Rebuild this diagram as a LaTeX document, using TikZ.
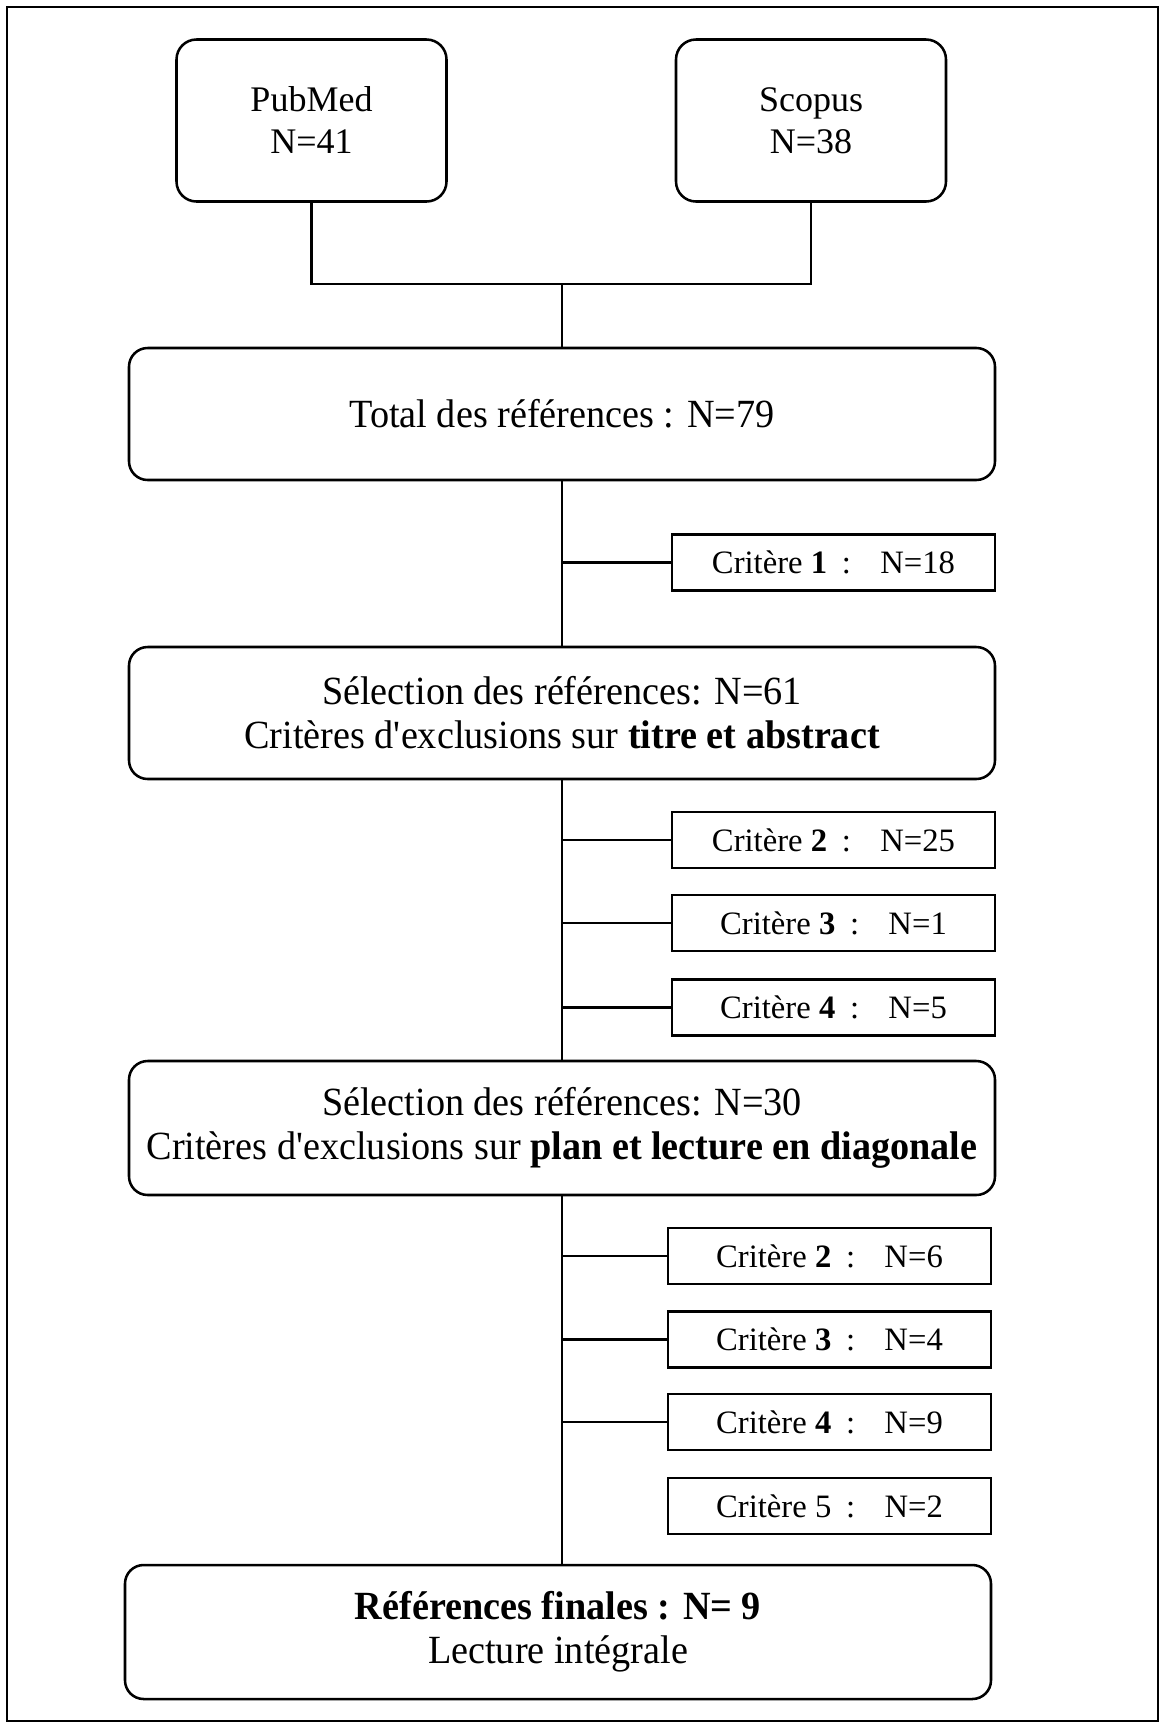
\documentclass[tikz,border=0pt]{standalone}
\usepackage{fontspec}
\setmainfont{Liberation Serif}
\newfontfamily\bigfont{Liberation Serif}[FakeStretch=0.955]
\begin{document}
\begin{tikzpicture}[x=0.75pt,y=-0.75pt,
  line width=1.9pt,
  bigbox/.style={draw, rounded corners=14pt, inner sep=0pt, align=center,
    font=\bigfont\fontsize{30}{33}\selectfont},
  srcbox/.style={draw, rounded corners=15pt, inner sep=0pt, align=center,
    minimum width=202.5pt, minimum height=121.5pt,
    font=\fontsize{27}{31.5}\selectfont},
  critbox/.style={draw, rectangle, inner sep=0pt, minimum width=242.25pt, minimum height=42pt,
    font=\fontsize{24.5}{28}\selectfont},
  conn/.style={line width=1.9pt}]
\useasboundingbox (0,0) rectangle (1166,1728);
\draw[line width=1.9pt] (7,7) rectangle (1158,1721);
% sources
\node[srcbox] (pub) at (311.5,120.5) {PubMed\\N=41};
\node[srcbox] (scop) at (811,120.5) {Scopus\\N=38};
\node[bigbox, minimum width=649.5pt, minimum height=99pt] (total) at (562,414) {Total des références : N=79};
\node[critbox] (c1) at (833.5,562.5) {Critère \textbf{1}\hspace{0.45em}:\hspace{0.9em}N=18};
\node[bigbox, minimum width=649.5pt, minimum height=99pt] (sel61) at (562,713) {Sélection des références: N=61\\Critères d\textquotesingle exclusions sur \textbf{titre et abstract}};
\node[critbox] (c2a) at (833.5,840) {Critère \textbf{2}\hspace{0.45em}:\hspace{0.9em}N=25};
\node[critbox] (c3a) at (833.5,923) {Critère \textbf{3}\hspace{0.45em}:\hspace{0.9em}N=1};
\node[critbox] (c4a) at (833.5,1007.5) {Critère \textbf{4}\hspace{0.45em}:\hspace{0.9em}N=5};
\node[bigbox, minimum width=649.5pt, minimum height=100.5pt] (sel30) at (562,1128) {Sélection des références: N=30\\Critères d\textquotesingle exclusions sur \textbf{plan et lecture en diagonale}};
\node[critbox] (c2b) at (829.5,1256) {Critère \textbf{2}\hspace{0.45em}:\hspace{0.9em}N=6};
\node[critbox] (c3b) at (829.5,1339.5) {Critère \textbf{3}\hspace{0.45em}:\hspace{0.9em}N=4};
\node[critbox] (c4b) at (829.5,1422) {Critère \textbf{4}\hspace{0.45em}:\hspace{0.9em}N=9};
\node[critbox] (c5b) at (829.5,1506) {Critère 5\hspace{0.45em}:\hspace{0.9em}N=2};
\node[bigbox, minimum width=649.5pt, minimum height=100.5pt] (final) at (558,1632) {\textbf{Références finales : N= 9}\\Lecture intégrale};
% connectors
\coordinate (jn) at (562,284);
\draw[conn] (pub.south) |- (jn) -| (scop.south);
\draw[conn] (jn) -- (total.north);
\draw[conn] (total.south) -- (sel61.north);
\draw[conn] (c1.west) -- (c1.west -| total.south);
\draw[conn] (sel61.south) -- (sel30.north);
\draw[conn] (c2a.west) -- (c2a.west -| sel61.south);
\draw[conn] (c3a.west) -- (c3a.west -| sel61.south);
\draw[conn] (c4a.west) -- (c4a.west -| sel61.south);
\draw[conn] (sel30.south) -- (sel30.south |- final.north);
\draw[conn] (c2b.west) -- (c2b.west -| sel30.south);
\draw[conn] (c3b.west) -- (c3b.west -| sel30.south);
\draw[conn] (c4b.west) -- (c4b.west -| sel30.south);
\end{tikzpicture}
\end{document}
